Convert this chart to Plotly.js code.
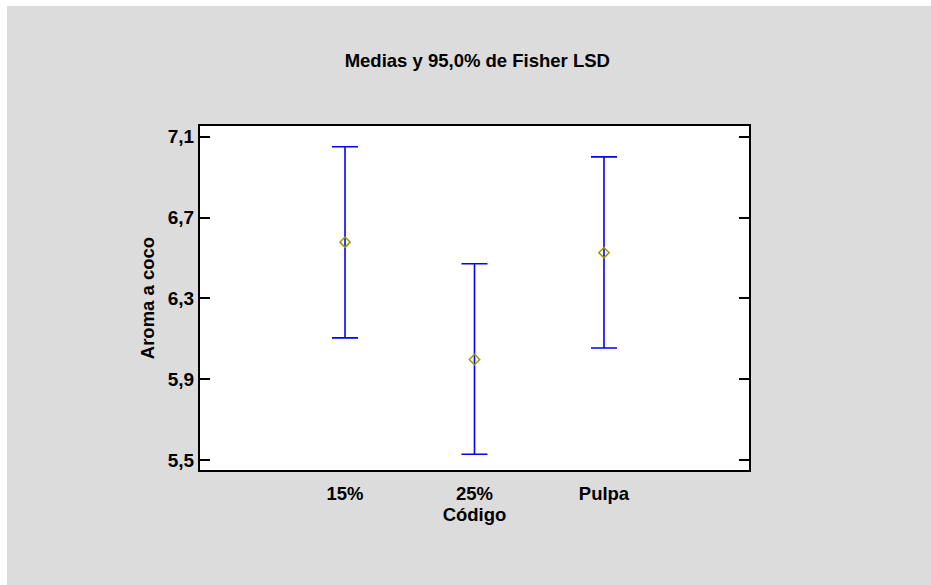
<!DOCTYPE html>
<html>
<head>
<meta charset="utf-8">
<script src="https://cdn.plot.ly/plotly-3.0.1.min.js"></script>
<style>
html,body{margin:0;padding:0;background:#ffffff;width:931px;height:585px;overflow:hidden;}
#chart{position:absolute;left:7px;top:6px;width:924px;height:579px;}
</style>
</head>
<body>
<div id="chart"></div>
<script>
const categories = ["15%", "25%", "Pulpa"];
const means = [6.578, 5.997, 6.526];
const upper = [7.050, 6.471, 7.000];
const lower = [6.104, 5.528, 6.054];
const yTicks = [5.5, 5.9, 6.3, 6.7, 7.1];
const yTickLabels = ["5,5", "5,9", "6,3", "6,7", "7,1"];

const xIdx = categories.map((c, i) => i);
const plus = means.map((m, i) => upper[i] - m);
const minus = means.map((m, i) => m - lower[i]);

const font = {family: "Liberation Sans, Arial, sans-serif", color: "#000000"};

const trace = {
  type: "scatter",
  mode: "markers",
  x: xIdx,
  y: means,
  marker: {symbol: "diamond-open", size: 8, color: "#9a9a00", line: {width: 1.5, color: "#9a9a00"}},
  error_y: {type: "data", symmetric: false, array: plus, arrayminus: minus,
            color: "#0000ff", thickness: 1.6, width: 13},
  hoverinfo: "skip",
  showlegend: false
};

const layout = {
  width: 924, height: 579,
  paper_bgcolor: "#dcdcdc",
  plot_bgcolor: "#ffffff",
  margin: {l: 193, r: 182, t: 120, b: 115},
  title: {text: "<b>Medias y 95,0% de Fisher LSD</b>", x: 0.509, xanchor: "center", y: 0.905, yanchor: "middle",
          font: Object.assign({size: 18.5}, font)},
  xaxis: {
    range: [-1.12, 3.12],
    tickmode: "array", tickvals: xIdx, ticktext: categories.map(c => "<b>" + c + "</b>"),
    ticks: "", showgrid: false, zeroline: false,
    showline: true, linecolor: "#000000", linewidth: 2, mirror: true,
    ticklabelstandoff: 6,
    tickfont: Object.assign({size: 18.5}, font),
    title: {text: "<b>Código</b>", font: Object.assign({size: 18.5}, font), standoff: 2}
  },
  yaxis: {
    range: [5.45, 7.153],
    tickmode: "array", tickvals: yTicks, ticktext: yTickLabels.map(t => "<b>" + t + "</b>"),
    ticks: "inside", ticklen: 10, tickwidth: 2, tickcolor: "#000000",
    showgrid: false, zeroline: false,
    showline: true, linecolor: "#000000", linewidth: 2, mirror: "ticks",
    tickfont: Object.assign({size: 19}, font),
    title: {text: "<b>Aroma a coco</b>", font: Object.assign({size: 18.5}, font), standoff: 8}
  }
};

Plotly.newPlot("chart", [trace], layout, {displayModeBar: false, staticPlot: true});
</script>
</body>
</html>
